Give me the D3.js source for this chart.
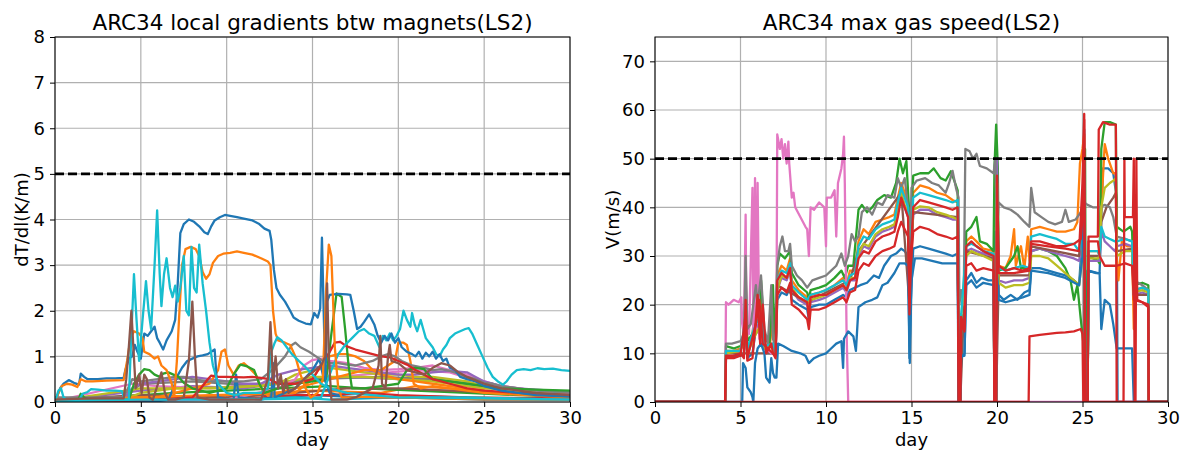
<!DOCTYPE html>
<html>
<head>
<meta charset="utf-8">
<script src="https://cdn.jsdelivr.net/npm/d3@7"></script>
<style>
  body { margin: 0; background: #fff; }
  svg text { font-family: "DejaVu Sans", sans-serif; fill: #000; }
</style>
</head>
<body>
<div id="chart"></div>
<script>
// ---------- data: left panel, local gradients dT/dl (K/m) vs day ----------
const gradBlueMain = [[0,0],[0.3,0.3],[0.5,0.4],[0.8,0.48],[1.1,0.42],[1.4,0.38],[1.5,0.62],[1.7,0.55],[1.9,0.5],[2.5,0.5],[3.0,0.52],[3.5,0.52],[4.0,0.53],[4.1,0.7],[4.3,0.95],[4.5,1.0],[4.65,1.25],[4.8,1.1],[5.0,0.95],[5.2,1.5],[5.4,1.45],[5.6,1.55],[5.8,1.65],[5.95,1.4],[6.1,1.3],[6.3,1.15],[6.5,1.35],[6.8,1.55],[7.0,1.8],[7.15,2.6],[7.3,3.7],[7.5,3.9],[7.8,4.0],[8.1,3.95],[8.4,3.85],[8.7,3.72],[8.9,3.68],[9.1,3.85],[9.3,3.98],[9.6,4.05],[9.9,4.1],[10.2,4.08],[10.6,4.05],[11.0,4.02],[11.5,3.98],[11.9,3.9],[12.2,3.8],[12.5,3.75],[12.6,3.55],[12.75,2.9],[12.9,2.5],[13.1,2.35],[13.4,2.2],[13.7,2.0],[13.9,1.85],[14.2,1.78],[14.6,1.72],[14.9,1.7],[15.1,1.95],[15.3,1.85],[15.45,2.05],[15.55,3.6],[15.65,2.0],[15.75,0.5],[15.85,2.2],[16.0,2.35],[16.5,2.37],[17.0,2.36],[17.2,2.35],[17.4,2.0],[17.6,1.6],[17.8,1.65],[18.0,1.75],[18.3,1.92],[18.6,1.7],[18.8,1.45],[19.0,1.3],[19.2,1.45],[19.4,1.35],[19.6,1.5],[19.8,1.3],[20.0,1.4],[20.2,1.2],[20.5,1.1],[20.8,1.05],[21.0,1.0],[21.2,1.1],[21.4,0.95],[21.6,1.08],[21.8,1.0],[22.0,1.1],[22.2,0.95],[22.4,1.05],[22.6,0.9],[22.8,0.95],[23.0,0.75],[23.3,0.7],[23.6,0.55],[24,0.5],[24.5,0.45],[25,0.35],[26,0.25],[27,0.2],[28,0.15],[30,0.12]];
const gradOrangeMain = [[0,0],[0.2,0.2],[0.4,0.35],[0.7,0.4],[1.0,0.38],[1.3,0.33],[1.5,0.5],[1.8,0.45],[2.2,0.45],[3,0.47],[4.0,0.48],[4.2,0.9],[4.4,1.4],[4.6,1.55],[4.9,1.5],[5.1,1.4],[5.2,1.1],[5.5,1.05],[5.8,0.95],[6.0,1.0],[6.2,0.8],[6.5,0.7],[6.8,0.4],[6.95,0.15],[7.1,0.9],[7.25,2.0],[7.4,3.0],[7.6,3.35],[7.9,3.4],[8.2,3.35],[8.4,3.2],[8.6,2.85],[8.8,2.7],[9.0,2.8],[9.2,3.05],[9.5,3.2],[9.8,3.25],[10.2,3.27],[10.6,3.3],[11.0,3.27],[11.5,3.23],[12.0,3.15],[12.4,3.08],[12.55,3.0],[12.7,2.0],[12.85,1.5],[13.0,1.35],[13.4,1.3],[13.7,1.25],[14.0,1.0],[14.3,0.6],[14.6,0.3],[14.9,0.1],[15.3,0.2],[15.6,0.5],[15.8,2.5],[15.95,3.45],[16.1,3.2],[16.3,1.2],[16.5,0.3],[16.7,0.1],[17.5,0.1],[18.0,0.12],[19,0.1],[20,0.1],[22,0.08],[25,0.06],[30,0.05]];
const gradCyanEarly = [[0,0],[0.2,0.25],[0.35,0.3],[0.5,0.1],[0.8,0.02],[1.4,0.02],[1.6,0.18],[1.9,0.22],[2.1,0.28],[2.5,0.27],[3.0,0.25],[3.5,0.25],[3.9,0.24],[4.05,0.05],[4.3,0.05],[4.45,1.5],[4.6,2.8],[4.75,1.8],[4.9,0.9],[5.1,1.8],[5.3,2.65],[5.45,2.0],[5.6,1.6],[5.8,3.0],[5.95,4.2],[6.1,2.8],[6.2,2.1],[6.35,2.8],[6.5,3.15],[6.7,2.5],[6.85,2.3],[7.0,2.55],[7.15,2.2],[7.3,2.5],[7.5,3.2],[7.65,2.0],[7.8,1.9],[7.95,3.4],[8.1,2.5],[8.25,2.4],[8.4,3.45],[8.6,2.6],[8.8,2.0],[9.0,1.3],[9.2,0.8],[9.5,0.4],[10,0.2],[10.5,0.15],[11,0.2],[12,0.2],[12.4,0.3],[12.6,1.1],[12.8,1.3],[12.95,1.42],[13.2,1.35],[13.5,1.2],[13.8,1.05],[14.2,0.9],[14.5,0.8],[15.0,0.6],[15.5,0.4],[16,0.3],[17,0.2],[20,0.1],[25,0.08],[30,0.05]];
const gradCyanLate = [[0,0.02],[5,0.05],[10,0.05],[15,0.08],[15.5,0.1],[15.8,0.4],[16.1,0.7],[16.5,1.05],[16.9,1.25],[17.3,1.4],[17.7,1.55],[18.0,1.6],[18.3,1.5],[18.6,1.45],[18.9,1.2],[19.1,1.45],[19.3,1.35],[19.5,1.5],[19.7,1.35],[19.9,1.45],[20.1,1.6],[20.3,2.0],[20.5,1.8],[20.7,1.65],[20.8,1.95],[20.95,1.7],[21.1,1.55],[21.3,1.8],[21.45,1.6],[21.6,1.4],[21.8,1.3],[22.0,1.2],[22.2,1.05],[22.4,1.0],[22.6,1.15],[22.8,1.25],[23.0,1.4],[23.3,1.5],[23.6,1.55],[23.9,1.6],[24.1,1.62],[24.3,1.5],[24.6,1.25],[24.9,1.0],[25.2,0.75],[25.5,0.55],[25.8,0.45],[26.1,0.38],[26.3,0.45],[26.6,0.6],[26.9,0.7],[27.3,0.72],[27.7,0.7],[28.1,0.74],[28.5,0.72],[29.0,0.73],[29.5,0.7],[30,0.68]];
const gradBrown = [[0,0.05],[2,0.08],[4.0,0.08],[4.15,0.5],[4.3,1.2],[4.45,2.0],[4.55,1.3],[4.7,0.3],[4.9,0.6],[5.05,0.2],[5.2,0.6],[5.35,0.5],[5.5,0.1],[5.7,0.05],[6.0,0.4],[6.2,0.65],[6.4,0.2],[6.6,0.05],[7.0,0.05],[7.5,0.1],[7.8,0.9],[8.0,2.2],[8.15,1.0],[8.3,0.1],[9,0.05],[12,0.05],[12.4,0.5],[12.55,1.75],[12.7,0.4],[12.85,1.0],[13.0,0.3],[13.15,0.6],[13.3,0.2],[13.45,0.5],[13.6,0.2],[14.0,0.3],[14.5,0.5],[15.0,0.65],[15.5,0.8],[15.75,1.0],[15.85,2.6],[15.95,1.0],[16.1,0.05],[17,0.05],[17.5,0.1],[18,0.2],[18.5,0.3],[18.85,0.8],[18.95,1.45],[19.05,0.4],[19.25,0.3],[19.4,1.0],[19.5,1.25],[19.6,0.9],[20.0,0.85],[20.5,0.7],[21,0.65],[21.5,0.6],[22,0.75],[22.5,0.85],[23,0.8],[23.5,0.65],[24,0.55],[25,0.4],[26,0.3],[28,0.2],[30,0.15]];
const gradRed = [[0,0.02],[4,0.03],[6,0.05],[8,0.1],[8.5,0.3],[8.9,0.5],[9.1,0.58],[9.5,0.55],[10,0.55],[11,0.54],[11.5,0.55],[12,0.53],[12.5,0.5],[13,0.4],[14,0.4],[15,0.5],[15.5,0.8],[16,1.1],[16.3,1.3],[16.6,1.32],[17,1.22],[17.5,1.15],[18,1.1],[18.5,1.05],[19,1.0],[19.5,0.98],[20,0.9],[20.5,0.82],[21,0.7],[21.5,0.6],[22,0.5],[23,0.4],[24,0.3],[25,0.25],[27,0.2],[30,0.15]];
const gradGreen = [[0,0],[1.3,0.0],[1.5,0.18],[1.7,0.1],[2,0.05],[4.3,0.05],[4.6,0.4],[4.9,0.6],[5.2,0.72],[5.5,0.7],[5.8,0.6],[6.1,0.55],[6.3,0.62],[6.6,0.65],[6.9,0.6],[7.2,0.55],[7.5,0.42],[8,0.3],[9,0.2],[10,0.3],[10.4,0.6],[10.8,0.82],[11.2,0.78],[11.6,0.7],[11.9,0.4],[12.2,0.2],[13,0.3],[14,0.4],[15,0.45],[15.8,0.5],[16.1,1.5],[16.4,2.38],[16.7,2.3],[16.9,1.6],[17.1,0.8],[17.3,0.3],[18,0.3],[19,0.35],[20,0.4],[20.5,0.7],[21,0.75],[21.5,0.72],[22,0.5],[23,0.45],[24,0.4],[25,0.35],[26,0.3],[28,0.27],[30,0.25]];
const gradGray = [[0,0.1],[3,0.1],[4,0.1],[4.5,0.5],[5,0.45],[6,0.5],[7,0.55],[7.5,0.55],[8,0.5],[9,0.45],[10,0.45],[11,0.45],[12,0.5],[12.8,0.75],[13.4,1.0],[13.8,1.25],[14.0,1.3],[14.3,1.2],[14.8,1.1],[15.2,1.0],[15.6,0.9],[16,0.85],[16.5,0.85],[17,0.82],[17.5,0.8],[18,0.85],[18.5,0.9],[19,1.0],[19.4,1.05],[19.8,1.0],[20.2,0.9],[20.8,0.8],[21.5,0.75],[22,0.7],[22.5,0.72],[23,0.68],[23.5,0.62],[24,0.55],[24.5,0.5],[25,0.42],[25.5,0.4],[26,0.35],[28,0.25],[30,0.2]];
const gradBlueLow = [[0,0.02],[6,0.02],[6.6,0.05],[6.9,0.3],[7.1,0.55],[7.4,0.75],[7.7,0.9],[8.0,0.95],[8.3,1.0],[8.6,1.02],[8.9,1.05],[9.1,1.1],[9.3,1.15],[9.4,0.6],[9.5,0.1],[10,0.05],[10.4,0.05],[10.55,0.6],[10.7,0.1],[12,0.05],[12.6,0.1],[12.7,0.85],[12.8,0.1],[14,0.3],[14.5,0.5],[15,0.7],[15.4,0.95],[15.6,0.6],[16,0.2],[17,0.1],[20,0.1],[25,0.05],[30,0.05]];
const gradOrangeLow = [[0,0.02],[5,0.05],[6,0.1],[7,0.2],[8,0.3],[9,0.4],[9.5,0.7],[9.7,1.1],[9.9,1.15],[10.1,0.8],[10.4,0.6],[10.7,0.8],[11.0,0.85],[11.3,0.75],[11.7,0.6],[12,0.3],[12.5,0.1],[13,0.2],[14,0.3],[15,0.4],[16,0.5],[17,0.6],[18,0.7],[19,0.7],[19.8,0.9],[20.0,1.3],[20.3,1.3],[20.5,1.25],[20.7,0.9],[20.9,0.4],[21.3,0.3],[22,0.35],[23,0.3],[25,0.2],[30,0.1]];
const gradOrangeMid = [[0,0.05],[14,0.2],[15,0.5],[15.5,0.8],[16,1.0],[16.5,1.05],[17,1.05],[17.5,1.0],[18,0.9],[18.5,0.7],[19,0.6],[20,0.5],[21,0.45],[22,0.4],[24,0.3],[26,0.2],[30,0.12]];
const gradPurple = [[0,0.05],[4,0.05],[4.5,0.3],[5,0.4],[6,0.45],[7,0.5],[8,0.55],[9,0.5],[10,0.45],[11,0.4],[12,0.4],[13,0.6],[13.5,0.65],[14,0.7],[15,0.75],[16,0.8],[17,0.75],[18,0.7],[19,0.65],[20,0.6],[21,0.6],[22,0.65],[23,0.68],[24,0.65],[24.5,0.55],[25,0.45],[26,0.35],[27,0.3],[28,0.27],[30,0.22]];
const gradPink = [[0,0.02],[10,0.05],[13,0.3],[14,0.5],[14.5,0.8],[15,0.92],[15.5,0.95],[16,0.9],[16.5,0.88],[17,0.85],[18,0.75],[19,0.7],[20,0.72],[21,0.75],[22,0.8],[23,0.7],[24,0.6],[25,0.45],[26,0.35],[28,0.25],[30,0.2]];
const gradOlive = [[0,0.03],[4,0.05],[5,0.2],[7,0.3],[10,0.3],[13,0.4],[14,0.6],[15,0.7],[16,0.75],[17,0.7],[18,0.65],[19,0.6],[20,0.6],[21,0.55],[22,0.55],[23,0.5],[24,0.45],[25,0.35],[27,0.25],[30,0.15]];
const gradBgBlue = [[0,0.02],[4,0.03],[5,0.1],[10,0.05],[13,0.1],[15,0.15],[18,0.1],[22,0.12],[26,0.08],[30,0.05]];
const gradBgRed = [[0,0.02],[8,0.05],[10,0.08],[12,0.1],[14,0.15],[16,0.15],[18,0.2],[20,0.15],[24,0.1],[30,0.08]];
const gradBgGreen = [[0,0.01],[5,0.15],[7,0.2],[10,0.25],[13,0.3],[16,0.35],[18,0.3],[21,0.25],[24,0.2],[27,0.15],[30,0.12]];
const gradBgPurple = [[0,0.02],[5,0.25],[8,0.35],[11,0.3],[14,0.45],[17,0.55],[20,0.5],[23,0.45],[26,0.3],[30,0.18]];
const gradBgPink = [[0,0.02],[4.5,0.4],[6,0.35],[9,0.3],[12,0.4],[15,0.5],[18,0.6],[21,0.7],[23,0.65],[26,0.3],[30,0.2]];
const gradBgOlive = [[0,0.02],[5,0.3],[8,0.3],[12,0.35],[15,0.55],[18,0.55],[20,0.5],[22,0.45],[25,0.3],[30,0.2]];
const gradBgBrown = [[0,0.05],[5,0.15],[10,0.1],[14,0.2],[17,0.3],[20,0.3],[23,0.25],[26,0.2],[30,0.1]];
const gradBgGray = [[0,0.08],[4,0.08],[5,0.4],[8,0.45],[12,0.35],[15,0.5],[19,0.55],[22,0.5],[25,0.35],[30,0.2]];
const gradBgCyan = [[0,0.01],[10,0.05],[14,0.1],[16,0.05],[20,0.1],[24,0.1],[30,0.05]];
const gradBgOrange = [[0,0.01],[6,0.1],[10,0.15],[15,0.25],[19,0.2],[21,0.35],[23,0.3],[26,0.2],[30,0.1]];

// ---------- data: right panel, max gas speed V (m/s) vs day ----------
const speedBlueMid = [[0,0],[4.1,0],[4.15,9],[4.6,9.5],[5.0,9.5],[5.2,10],[5.3,17],[5.4,9],[5.7,10],[5.9,15],[6.1,14],[6.3,16],[6.5,10],[6.9,10],[7.05,9.5],[7.15,21],[7.4,22.5],[7.7,22],[7.9,23.5],[8.0,21],[8.4,20],[8.9,19],[9.0,17],[9.1,19.5],[9.6,20],[10.0,20],[10.5,21],[11.0,22],[11.2,21.5],[11.4,23],[11.7,23.5],[12.0,24],[12.4,24.5],[12.8,26],[13.1,25.5],[13.4,28],[13.8,30],[14.1,30.5],[14.4,31.5],[14.6,31],[14.8,30],[14.88,9],[14.95,20],[15.1,31.5],[15.5,32],[16.0,31.5],[16.5,31],[17.0,30.5],[17.4,30],[17.7,30.5],[17.76,0],[17.85,0],[17.9,9.5],[18.1,9.5],[18.2,25],[18.5,26.5],[18.8,24.5],[19.1,25.5],[19.5,25],[19.85,25],[19.9,35],[20.0,33],[20.1,22],[20.4,21],[20.8,22],[21.2,21],[21.6,22.5],[21.9,23],[22.0,27.5],[22.5,27.5],[23.0,27],[23.5,26.5],[24.0,26],[24.5,25],[24.8,24],[25.0,35],[25.1,56],[25.2,0],[25.3,27],[25.8,26.5],[26.0,26.5],[26.1,38],[26.2,48],[26.5,48],[26.8,47],[27.0,42],[27.05,0],[30,0]];
const speedOrange = [[0,0],[4.1,0],[4.15,10.5],[4.6,10.5],[5.0,11],[5.2,11.5],[5.3,22],[5.4,11],[5.7,12],[5.9,19],[6.1,18],[6.2,23],[6.4,12],[6.7,11],[6.9,18],[7.0,10],[7.15,26],[7.4,28],[7.7,27],[7.9,29.5],[8.0,25],[8.4,23],[8.9,21.5],[9.0,20],[9.1,22],[9.6,22.5],[10,23],[10.5,24],[11,25.5],[11.2,24],[11.4,27],[11.7,27],[11.9,33],[12.2,35.5],[12.5,34.5],[12.9,37],[13.3,37.5],[13.7,38],[14.0,38.5],[14.2,42],[14.4,45],[14.6,43],[14.8,41],[14.88,22],[14.95,35],[15.1,43],[15.5,44.5],[16.0,44],[16.5,43],[17.0,42.5],[17.4,41.5],[17.7,41],[17.76,0],[17.85,0],[17.9,18],[18.1,17],[18.2,33],[18.5,34],[18.8,33],[19.2,31.5],[19.8,31],[19.85,0],[19.95,0],[20.0,47],[20.1,28],[20.5,27.5],[20.8,30],[21.0,35.5],[21.1,28],[21.4,32],[21.6,27.5],[21.8,34],[21.9,29],[22.0,35.5],[22.5,36],[23,35.5],[23.5,35],[24,35],[24.5,35.5],[24.7,37],[24.85,49],[25.0,52],[25.1,55],[25.15,0],[25.3,0],[25.35,31],[25.9,31],[26.0,30],[26.1,40],[26.3,53],[26.5,50],[26.8,47],[26.95,47],[27.0,30],[27.1,25],[27.3,33],[27.6,32],[27.9,32],[28.0,15],[28.1,23],[28.5,23.5],[28.85,23],[28.87,0],[30,0]];
const speedGreen = [[0,0],[4.1,0],[4.15,11.5],[4.6,11],[5.0,11.5],[5.2,12],[5.3,26],[5.4,12.5],[5.7,14],[5.9,21],[6.1,20],[6.2,25],[6.4,13],[6.7,12],[6.9,24],[7.0,11],[7.15,28],[7.3,30.5],[7.6,29.5],[7.9,31],[8.0,26.5],[8.4,24],[8.9,22.5],[9.0,21],[9.1,23],[9.6,23.5],[10,24],[10.5,25.5],[10.9,27],[11.1,25.5],[11.3,28],[11.6,28],[11.9,39.5],[12.1,40.5],[12.4,39],[12.7,40],[13.0,41.5],[13.4,42.5],[13.8,42],[14.1,45],[14.3,50],[14.5,47],[14.7,49.5],[14.85,40],[14.9,22],[14.95,35],[15.1,46.5],[15.5,47],[16.0,47],[16.3,48],[16.7,46],[17.0,45.5],[17.3,47.4],[17.5,45.5],[17.7,43.5],[17.76,0],[17.85,0],[17.9,18],[18.1,17],[18.2,35],[18.5,36],[18.8,38],[19.0,33],[19.4,32.5],[19.8,31],[19.85,48],[19.95,57],[20.05,48],[20.1,27],[20.5,27.5],[21.0,30],[21.2,32],[21.4,27.5],[21.9,27.5],[22.0,31],[22.5,31.5],[23.0,31],[23.5,30],[24.0,27.5],[24.3,25],[24.5,21],[24.7,24],[24.9,17],[25.1,10.5],[25.15,52],[25.2,0],[25.3,0],[25.35,30],[25.9,29],[26.0,28.5],[26.1,52],[26.3,57.5],[26.6,57.5],[26.95,57],[27.0,36],[27.4,35],[27.8,36],[27.9,35],[28.0,24],[28.5,24.5],[28.85,24],[28.87,0],[30,0]];
const speedPurple = [[0,0],[4.1,0],[4.15,10],[5.0,10.5],[5.3,16],[5.4,10],[5.9,15],[6.2,17],[6.4,11],[6.9,12],[7.05,10],[7.15,23],[7.4,25.5],[7.7,25],[7.9,27],[8.0,23],[8.4,21],[8.9,20],[9.0,18.5],[9.1,20.5],[9.6,21],[10,21.5],[10.5,22.5],[11,23.5],[11.2,22.5],[11.4,25],[11.7,25],[11.9,30],[12.2,32],[12.5,31.5],[12.9,34],[13.3,35],[13.7,35.5],[14.0,36],[14.2,39],[14.4,42.5],[14.6,40],[14.8,38],[14.88,20],[14.95,30],[15.1,38.5],[15.5,39.5],[16.0,39.5],[16.5,38.5],[17.0,38],[17.4,37.5],[17.7,37.5],[17.76,0],[17.85,0],[17.9,17],[18.1,16],[18.2,31],[18.5,31.5],[18.8,31],[19.2,30.5],[19.8,30],[19.85,0],[19.95,0],[20.0,50],[20.1,25],[20.5,24.5],[21.0,25],[21.5,25],[21.9,25.5],[22.0,31],[22.5,31.5],[23,31],[23.5,30.5],[24,30],[24.5,29.5],[24.8,29],[25.0,33],[25.1,45],[25.15,0],[25.3,0],[25.35,29],[25.9,29],[26.0,29],[26.1,35],[26.3,33],[26.6,32],[26.9,31],[27.0,32],[27.5,32.5],[27.9,32],[28.0,22],[28.5,22.5],[28.85,22],[28.87,0],[30,0]];
const speedBrown = [[0,0],[4.1,0],[4.15,10],[5,10],[7.0,10],[7.15,24],[8.9,20.5],[11.4,25],[11.9,31],[14.4,43],[14.88,20],[15.1,39],[17.7,38],[17.76,0],[17.85,0],[18.2,31],[19.8,29.5],[19.85,0],[19.95,0],[20.1,26],[21.9,26],[22.0,32],[24.8,30],[25.1,42],[25.15,0],[25.3,0],[25.35,30],[26.0,30],[26.1,37],[26.4,40],[26.8,42],[26.95,43],[27.0,31],[27.9,31.5],[28.0,22],[28.85,22],[28.87,0],[30,0]];
const speedPink = [[0,0],[4.1,0],[4.15,20.5],[4.3,20],[4.6,21],[4.9,20.5],[5.05,21.5],[5.1,16],[5.2,14],[5.3,38.5],[5.35,15],[5.5,14],[5.7,44],[5.75,12],[5.85,46],[5.9,14],[6.0,45],[6.1,13],[6.3,12],[6.5,11],[6.8,10],[7.0,10],[7.1,15],[7.15,55],[7.3,52],[7.4,54],[7.5,50],[7.6,53],[7.7,49],[7.8,53.5],[7.85,49],[8.0,42],[8.1,43],[8.2,40],[8.5,38],[8.8,36],[8.9,35.5],[9.0,30],[9.1,40],[9.3,39.5],[9.6,41],[9.9,40],[10.0,32],[10.05,42],[10.3,42],[10.5,43.5],[10.6,34],[10.7,45],[10.9,48],[11.0,51],[11.05,54.5],[11.1,45],[11.2,15],[11.3,0],[30,0]];
const speedGray = [[0,0],[4.1,0],[4.15,12],[4.5,12],[5.0,12.5],[5.2,14],[5.3,30],[5.4,15],[5.6,16],[5.9,24],[6.0,20],[6.2,26],[6.4,15],[6.6,12],[6.8,24],[6.9,13],[7.05,11],[7.15,28],[7.3,32],[7.45,34],[7.6,31],[7.8,31],[7.9,32.5],[8.0,28],[8.3,26],[8.6,25],[8.9,23.5],[9.2,25],[9.6,25.5],[10,26],[10.3,27],[10.6,28],[10.9,30.5],[11.1,28],[11.3,30],[11.5,34.5],[11.7,33],[11.9,34],[12.1,39],[12.4,40],[12.7,38.5],[13,41],[13.3,40.5],[13.6,42.5],[14.0,42],[14.2,46],[14.4,44],[14.6,46],[14.8,40],[14.9,28],[15.0,44],[15.3,45.5],[15.8,46],[16.2,45],[16.6,44.5],[17.0,43],[17.2,45],[17.4,47.5],[17.6,44],[17.75,42],[17.8,20],[17.9,23],[18.05,20],[18.15,52],[18.4,51.5],[18.6,50],[18.8,51],[19.0,48.5],[19.4,48],[19.8,47],[19.9,50],[20.0,35],[20.1,41],[20.4,40],[20.8,39.5],[21.2,38.5],[21.6,37],[21.9,36],[22.0,44],[22.2,39],[22.6,38],[23.0,37],[23.4,36.5],[23.8,37],[24.0,39.5],[24.2,37],[24.6,37.5],[24.9,39],[25.1,41],[25.3,40.5],[25.6,40],[26.0,40],[26.3,40.5],[26.6,40],[26.8,38],[27.0,34],[27.5,33.5],[27.9,33],[28.0,25],[28.5,24],[28.85,23],[28.86,0],[30,0]];
const speedOlive = [[0,0],[4.1,0],[4.15,10],[5.0,10.5],[5.3,15],[5.4,10],[5.9,14],[6.2,16],[6.4,11],[6.9,11.5],[7.05,10],[7.15,23],[7.4,26],[7.7,25.5],[7.9,27.5],[8.0,23.5],[8.4,21.5],[8.9,20.5],[9.1,21],[9.6,21.5],[10,22],[10.5,23],[11,24],[11.2,23],[11.4,25.5],[11.7,25.5],[11.9,30.5],[12.2,32.5],[12.5,32],[12.9,34.5],[13.3,35.5],[13.7,36],[14.0,36.5],[14.2,39.5],[14.4,43],[14.6,40.5],[14.8,39],[14.88,21],[14.95,31],[15.1,39.5],[15.5,40.2],[16.0,40],[16.5,39],[17.0,38.5],[17.4,38],[17.7,37.5],[17.76,0],[17.85,0],[17.9,17],[18.2,30],[18.5,31],[18.8,30.5],[19.2,30],[19.8,29],[19.85,0],[19.95,0],[20.0,45],[20.1,24.5],[20.5,23.5],[21.0,24],[21.5,24],[21.9,24.5],[22.0,30],[22.5,30],[23,29.5],[23.5,28],[24,26.5],[24.5,25],[24.8,24],[25.0,30],[25.1,40],[25.15,0],[25.3,0],[25.35,29.5],[25.9,29.5],[26.0,30],[26.1,40],[26.3,44],[26.6,45],[26.8,45.5],[26.95,46],[27.0,30],[27.5,31],[27.9,31],[28.0,22.5],[28.5,23],[28.85,22.5],[28.87,0],[30,0]];
const speedCyan = [[0,0],[4.1,0],[4.15,10.5],[5.0,10.5],[5.3,17],[5.4,11],[5.9,16],[6.2,18],[6.4,11.5],[6.9,12],[7.05,10],[7.15,25],[7.4,27],[7.7,26.5],[7.9,28.5],[8.0,24],[8.4,22.5],[8.9,21],[9.1,22],[9.6,22.5],[10,23],[10.5,24],[11,25],[11.2,24],[11.4,26],[11.7,26.5],[11.9,32],[12.2,34],[12.5,33.5],[12.9,35.5],[13.3,36.5],[13.7,37],[14.0,37.5],[14.2,41],[14.4,44],[14.6,42],[14.8,40],[14.88,22],[14.95,32],[15.1,42],[15.5,43],[16.0,42.5],[16.5,42],[17.0,41.5],[17.4,41],[17.7,41.5],[17.76,0],[17.85,0],[17.9,17.5],[18.2,32],[18.5,32.5],[18.8,32],[19.2,31],[19.8,30.5],[19.85,0],[19.95,0],[20.0,44],[20.1,27.5],[20.5,27],[21.0,27.5],[21.5,28],[21.9,27.5],[22.0,34],[22.5,34.5],[23,34],[23.5,33.5],[24,32.5],[24.5,32.5],[24.8,31],[25.0,33],[25.1,47],[25.15,0],[25.3,0],[25.35,31],[25.9,31],[26.0,30],[26.1,36],[26.3,34],[26.6,33.5],[26.9,33],[27.0,33],[27.5,33.5],[27.9,33],[28.0,23],[28.5,23.5],[28.85,23],[28.87,0],[30,0]];
const speedBlueLow = [[0,0],[5.1,0],[5.15,8],[5.3,7],[5.4,3],[5.6,2],[5.7,1],[5.75,0],[5.85,8],[6.0,11],[6.2,12],[6.4,10],[6.5,5],[6.7,4],[6.8,9],[6.9,6],[7.0,5],[7.1,5],[7.2,12],[7.5,11.5],[8.0,10.5],[8.5,10],[8.8,9.5],[9.0,8],[9.3,9],[9.6,9.5],[10.0,10],[10.3,11],[10.6,12],[10.9,12.5],[11.0,7],[11.05,13],[11.3,14.5],[11.6,13.5],[11.75,10.5],[11.9,19.5],[12.3,20.5],[12.7,21],[13.0,21.5],[13.3,24],[13.6,24.5],[14.0,26.5],[14.3,28.5],[14.6,28.5],[14.8,28],[14.9,8],[15.0,25],[15.2,29.5],[15.6,29.5],[16.2,29],[16.8,28.5],[17.4,28.5],[17.7,28.5],[17.75,0],[17.85,0],[17.9,9],[18.1,10],[18.2,24],[18.5,25],[18.8,23.5],[19.2,24.5],[19.8,24],[19.85,0],[19.95,0],[20.0,27],[20.1,21],[20.5,20.5],[21.0,21],[21.5,21.5],[21.9,22],[22.0,27],[23,26.5],[24,25.5],[24.8,24],[25.0,30],[25.1,50],[25.15,0],[25.3,0],[25.35,27],[25.9,26.5],[26.0,26.5],[26.1,15],[26.3,21],[26.6,20],[26.8,16],[27.0,11],[27.9,11],[28.0,0],[30,0]];
const speedRedLow = [[0,0],[4.1,0],[4.15,9],[4.6,9],[5.0,9.5],[5.3,18],[5.4,9],[5.9,16],[6.1,21],[6.3,12],[6.6,11],[6.9,10],[7.05,9],[7.15,22],[7.4,23.5],[7.7,22.5],[7.9,24.5],[8.0,20],[8.4,19],[8.9,17],[9.0,15],[9.1,19],[9.6,19],[10,19.5],[10.5,20.5],[11,21.5],[11.2,20.5],[11.4,22.5],[11.7,23],[11.9,27],[12.2,28.5],[12.5,28],[12.9,30],[13.3,31],[13.7,31.5],[14.0,32],[14.2,35],[14.4,37],[14.6,35.5],[14.8,34],[14.88,18],[14.95,28],[15.1,35],[15.5,36],[16.0,35.5],[16.5,34.5],[17.0,34],[17.4,33.5],[17.7,34],[17.76,0],[17.85,0],[17.9,16],[18.1,14.5],[18.2,28],[18.5,28.5],[18.8,27],[19.2,27.5],[19.8,27],[19.85,0],[19.95,0],[20.0,40],[20.1,26.5],[21,26.5],[21.9,27],[22.0,32.5],[23,32],[24,31.5],[24.8,31],[25.0,45],[25.1,58],[25.15,0],[25.3,0],[25.35,33],[25.9,33],[26.0,30],[26.3,28],[26.8,28],[27.0,28],[27.5,28.5],[27.9,28],[28.0,21],[28.5,20.5],[28.85,19.5],[28.87,0],[30,0]];
const speedRedTop = [[0,0],[4.1,0],[4.15,9.5],[4.6,9.5],[5.0,10],[5.2,9],[5.3,21],[5.4,8.5],[5.7,9],[5.9,17],[6.0,22],[6.15,12],[6.3,20],[6.5,10],[6.8,12],[6.9,10],[7.05,9.5],[7.15,25],[7.4,26.5],[7.7,25.5],[7.9,27.5],[8.0,23],[8.4,21.5],[8.9,20.5],[9.0,17],[9.1,21.5],[9.6,22],[10,22],[10.5,23],[11,24],[11.2,23],[11.4,25],[11.7,25.5],[11.9,29.5],[12.2,31],[12.5,30.5],[12.9,33],[13.3,34],[13.7,34.5],[14.0,35],[14.2,38],[14.4,42],[14.6,40],[14.8,38],[14.88,20],[14.95,30],[15.1,40],[15.5,41.5],[16.0,41],[16.5,40.5],[17.0,40],[17.4,39.5],[17.7,40],[17.76,0],[17.85,0],[17.9,17.5],[18.1,15],[18.2,32],[18.5,33],[18.8,32],[19.2,31],[19.8,30],[19.85,0],[19.95,0],[20.0,46.5],[20.1,28],[20.5,27],[21.0,27.5],[21.5,27],[21.9,27.5],[22.0,33],[22.5,33],[23.0,32.5],[23.5,32],[24.0,32],[24.5,32.5],[24.9,33.5],[25.0,38],[25.1,59.2],[25.15,0],[25.3,0],[25.35,34],[25.9,34],[25.95,56],[26.2,57.5],[26.6,57],[26.95,57],[27.0,0],[27.4,0],[27.45,50],[27.47,38],[27.95,38],[28.0,50],[28.05,0],[28.1,0],[28.15,50],[28.2,21],[28.5,20.5],[28.85,20],[28.87,0],[30,0]];
const speedRedSegment = [[0,0],[21.85,0],[21.9,13.5],[22.5,13.8],[23,14],[23.5,14.2],[24,14.3],[24.5,14.5],[24.9,15],[25.0,14],[25.05,0],[30,0]];

const xTicks = [0, 5, 10, 15, 20, 25, 30];
const gradTicks = [0, 1, 2, 3, 4, 5, 6, 7, 8];
const speedTicks = [0, 10, 20, 30, 40, 50, 60, 70];
const gradLimit = 5;
const speedLimit = 50;

// tab10 colours
const C = {blue:"#1f77b4", orange:"#ff7f0e", green:"#2ca02c", red:"#d62728", purple:"#9467bd",
           brown:"#8c564b", pink:"#e377c2", gray:"#7f7f7f", olive:"#bcbd22", cyan:"#17becf"};

const gradSeries = [
  [gradBgBlue, C.blue], [gradBgOrange, C.orange], [gradBgGreen, C.green], [gradBgRed, C.red],
  [gradBgPurple, C.purple], [gradBgBrown, C.brown], [gradBgPink, C.pink], [gradBgGray, C.gray],
  [gradBgOlive, C.olive], [gradBgCyan, C.cyan],
  [gradOlive, C.olive], [gradPink, C.pink], [gradPurple, C.purple], [gradOrangeMid, C.orange],
  [gradOrangeLow, C.orange], [gradBlueLow, C.blue], [gradGray, C.gray], [gradGreen, C.green],
  [gradRed, C.red], [gradCyanLate, C.cyan], [gradBlueMain, C.blue], [gradOrangeMain, C.orange],
  [gradCyanEarly, C.cyan], [gradBrown, C.brown]
];
const speedSeries = [
  [speedBlueMid, C.blue], [speedOrange, C.orange], [speedGreen, C.green], [speedPurple, C.purple],
  [speedBrown, C.brown], [speedPink, C.pink], [speedGray, C.gray], [speedOlive, C.olive],
  [speedCyan, C.cyan], [speedBlueLow, C.blue], [speedRedLow, C.red], [speedRedTop, C.red],
  [speedRedSegment, C.red]
];

const svg = d3.select("#chart").append("svg")
  .attr("width", 1184).attr("height", 450);

// draws one panel: axes, grid, series, limit line, labels
function drawPanel(opts) {
  const {left, right, top, bottom, yMax, yTicks, series, limit, title, yLabel, yLabelX, id} = opts;
  const xScale = d3.scaleLinear().domain([0, 30]).range([left, right]);
  const yScale = d3.scaleLinear().domain([0, yMax]).range([bottom, top]);
  const g = svg.append("g");

  // grid
  g.append("g").selectAll("line").data(xTicks).join("line")
    .attr("x1", d => xScale(d)).attr("x2", d => xScale(d))
    .attr("y1", top).attr("y2", bottom)
    .attr("stroke", "#b0b0b0").attr("stroke-width", 1.2);
  g.append("g").selectAll("line").data(yTicks).join("line")
    .attr("x1", left).attr("x2", right)
    .attr("y1", d => yScale(d)).attr("y2", d => yScale(d))
    .attr("stroke", "#b0b0b0").attr("stroke-width", 1.2);

  g.append("clipPath").attr("id", id)
    .append("rect").attr("x", left).attr("y", top)
    .attr("width", right - left).attr("height", bottom - top);

  const line = d3.line()
    .x(d => xScale(d[0]))
    .y(d => yScale(d[1]));
  const lines = g.append("g").attr("clip-path", `url(#${id})`);
  series.forEach(([data, color]) => {
    lines.append("path")
      .attr("d", line(data))
      .attr("fill", "none")
      .attr("stroke", color)
      .attr("stroke-width", 2.3)
      .attr("stroke-linejoin", "round");
  });

  // limit line
  g.append("line")
    .attr("x1", left).attr("x2", right)
    .attr("y1", yScale(limit)).attr("y2", yScale(limit))
    .attr("stroke", "#000").attr("stroke-width", 2.6)
    .attr("stroke-dasharray", "9,4");

  // axes
  const xAxis = g.append("g")
    .attr("transform", `translate(0,${bottom})`)
    .call(d3.axisBottom(xScale).tickValues(xTicks).tickSize(5).tickPadding(4).tickFormat(d3.format("d")));
  const yAxis = g.append("g")
    .attr("transform", `translate(${left},0)`)
    .call(d3.axisLeft(yScale).tickValues(yTicks).tickSize(5).tickPadding(5).tickFormat(d3.format("d")));
  [xAxis, yAxis].forEach(a => {
    a.select(".domain").remove();
    a.selectAll("text").style("font-size", "18px").style("font-family", "DejaVu Sans");
    a.selectAll("line").attr("stroke", "#000");
  });

  // frame
  g.append("rect")
    .attr("x", left).attr("y", top)
    .attr("width", right - left).attr("height", bottom - top)
    .attr("fill", "none").attr("stroke", "#000").attr("stroke-width", 1);

  g.append("text")
    .attr("x", (left + right) / 2).attr("y", 30)
    .attr("text-anchor", "middle")
    .style("font-size", "21.5px")
    .text(title);
  g.append("text")
    .attr("x", (left + right) / 2).attr("y", 446)
    .attr("text-anchor", "middle")
    .style("font-size", "18px")
    .text("day");
  g.append("text")
    .attr("transform", `translate(${yLabelX},${(top + bottom) / 2}) rotate(-90)`)
    .attr("text-anchor", "middle")
    .style("font-size", "18px")
    .text(yLabel);
}

drawPanel({left: 55, right: 570, top: 37, bottom: 402, yMax: 8, yTicks: gradTicks,
  series: gradSeries, limit: gradLimit, title: "ARC34 local gradients btw magnets(LS2)",
  yLabel: "dT/dl(K/m)", yLabelX: 28, id: "clipLeft"});
drawPanel({left: 655, right: 1168, top: 37, bottom: 402, yMax: 75, yTicks: speedTicks,
  series: speedSeries, limit: speedLimit, title: "ARC34 max gas speed(LS2)",
  yLabel: "V(m/s)", yLabelX: 619, id: "clipRight"});
</script>
</body>
</html>
